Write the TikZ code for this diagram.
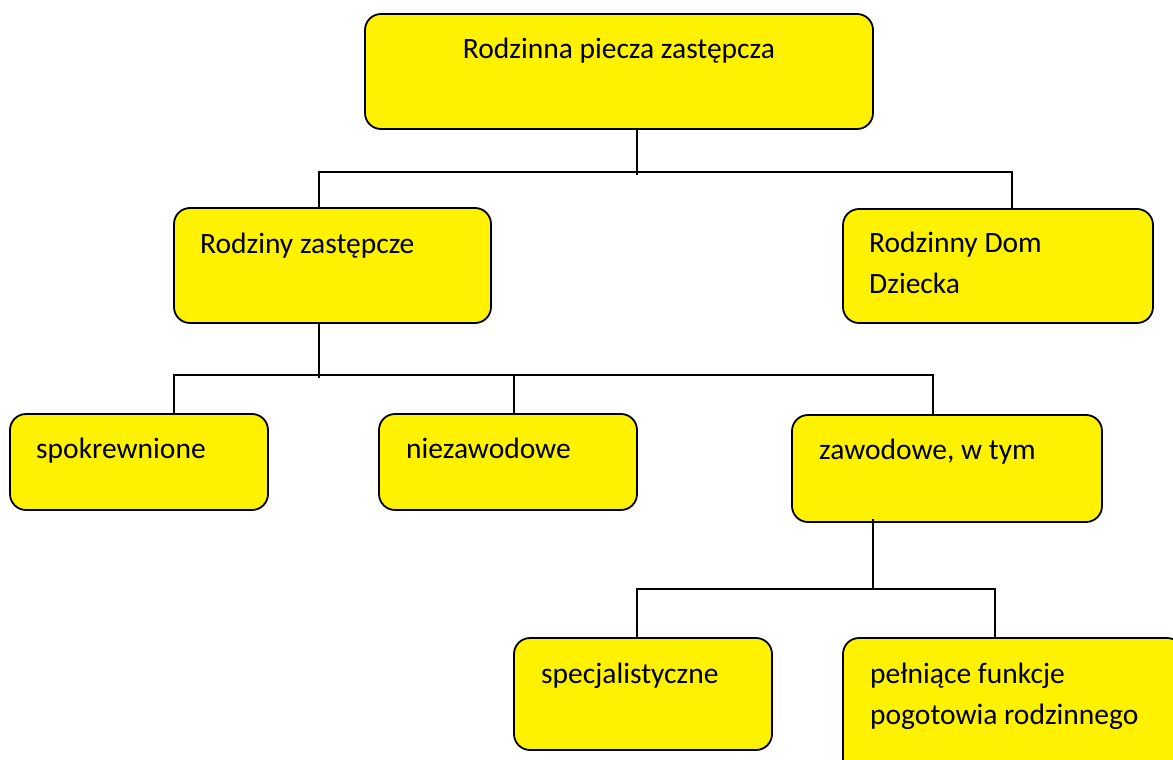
\documentclass[tikz,border=0pt]{standalone}
\usepackage{fontspec}
\setmainfont{Carlito}
\usetikzlibrary{calc}
\usetikzlibrary{positioning}

\begin{document}
\begin{tikzpicture}
	[
	x = 1pt, y = -1pt,
	box/.style = {draw, line width=1.8pt, fill=yellow, rounded corners=16pt, anchor=north west, inner sep=0pt, outer sep=0pt},
	txt/.style = {anchor=base west, inner sep=0pt, align=left, font=\fontsize{29.5}{41}\selectfont},
	link/.style = {line width=1.5pt}
	]
		\useasboundingbox (0,0) rectangle (1173,760);
		\clip (0,0) rectangle (1173,760);

		% boxes
		\node[box, minimum width=508, minimum height=115] (piecza) at (365,14) {};
		\node[box, minimum width=317, minimum height=115] (rodziny) at (174,208) {};
		\node[box, minimum width=310, minimum height=114] (dom) at (843,209) {};
		\node[box, minimum width=258, minimum height=96] (spokr) at (10,414) {};
		\node[box, minimum width=258, minimum height=96] (niezaw) at (379,414) {};
		\node[box, minimum width=310, minimum height=107] (zawod) at (792,415) {};
		\node[box, minimum width=258, minimum height=112] (specj) at (514,638) {};
		\node[box, minimum width=340, minimum height=140] (pogot) at (843,638) {};

		% texts (two-line texts sit on their last baseline)
		\node[txt, anchor=base] (piecza-t) at ($(piecza.north)+(0,45)$) {Rodzinna piecza zastępcza};
		\node[txt] (rodziny-t) at ($(rodziny.north west)+(26,45)$) {Rodziny zastępcze};
		\node[txt] (dom-t) at ($(dom.north west)+(26,84)$) {Rodzinny Dom\\Dziecka};
		\node[txt] (spokr-t) at ($(spokr.north west)+(26,44)$) {spokrewnione};
		\node[txt] (niezaw-t) at ($(niezaw.north west)+(27,44)$) {niezawodowe};
		\node[txt] (zawod-t) at ($(zawod.north west)+(27,44)$) {zawodowe, w tym};
		\node[txt] (specj-t) at ($(specj.north west)+(27,45)$) {specjalistyczne};
		\node[txt] (pogot-t) at ($(pogot.north west)+(27,86)$) {pełniące funkcje\\pogotowia rodzinnego};

		% junctions
		\coordinate (j1) at (637,172);
		\coordinate (j1l) at (319,172);
		\coordinate (j1r) at (1012,172);
		\coordinate (j2) at (319,375);
		\coordinate (j2l) at (174,375);
		\coordinate (j2m) at (514,375);
		\coordinate (j2r) at (933,375);
		\coordinate (j3) at (873,589);
		\coordinate (j3l) at (637,589);
		\coordinate (j3r) at (995,589);

		% connectors
		\draw[link] (j1 |- piecza.south) -- ($(j1)+(0,3)$);
		\draw[link] (j1l |- rodziny.north) -- (j1l) -- (j1r) -- (j1r |- dom.north);
		\draw[link] (j2 |- rodziny.south) -- ($(j2)+(0,3)$);
		\draw[link] (j2l |- spokr.north) -- (j2l) -- (j2r) -- (j2r |- zawod.north);
		\draw[link] (j2m) -- (j2m |- niezaw.north);
		\draw[link] ($(j3 |- zawod.south)+(0,-3)$) -- ($(j3)+(0,1)$);
		\draw[link] (j3l |- specj.north) -- (j3l) -- (j3r) -- (j3r |- pogot.north);

	\end{tikzpicture}
\end{document}
